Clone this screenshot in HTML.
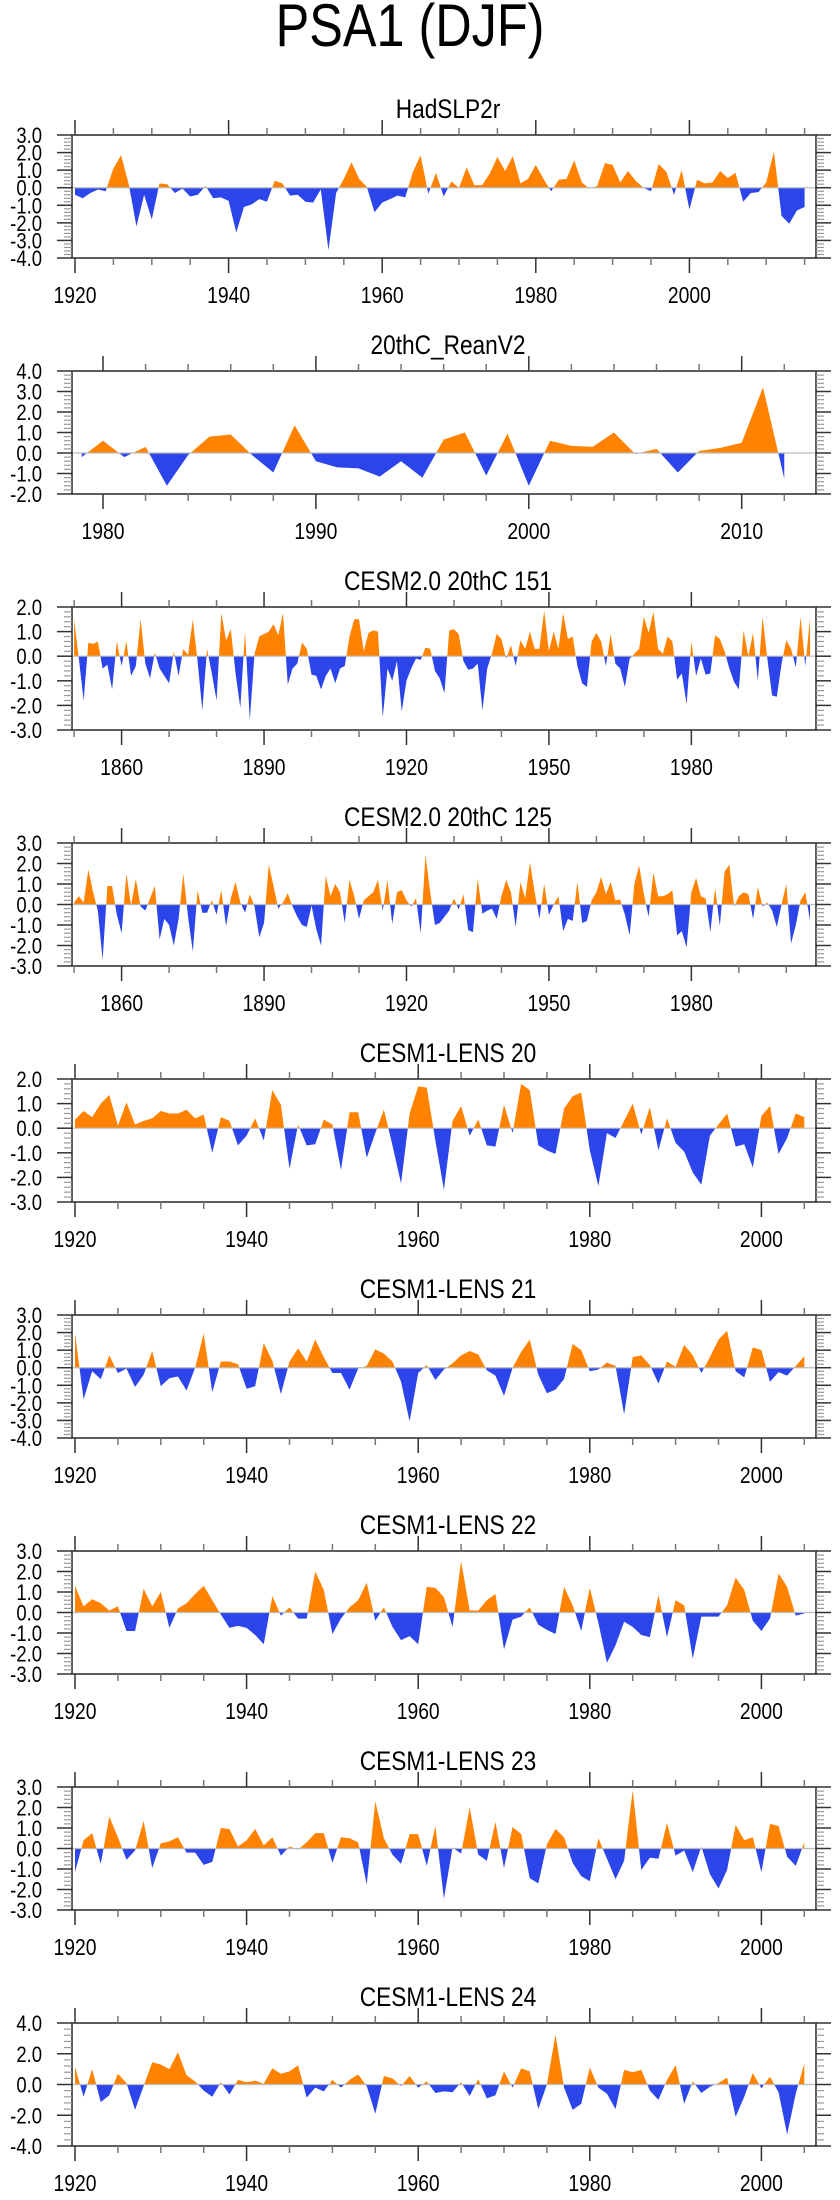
<!DOCTYPE html>
<html><head><meta charset="utf-8"><style>
html,body{margin:0;padding:0;background:#fff;}
svg{display:block;font-family:"Liberation Sans",sans-serif;}
</style></head><body>
<svg id="chart" width="840" height="2200" viewBox="0 0 840 2200" xmlns="http://www.w3.org/2000/svg">
<text transform="translate(410,46) scale(0.84,1)" font-size="60" text-anchor="middle">PSA1 (DJF)</text>
</svg>
<script>
const titles = ["HadSLP2r","20thC_ReanV2","CESM2.0 20thC 151","CESM2.0 20thC 125","CESM1-LENS 20","CESM1-LENS 21","CESM1-LENS 22","CESM1-LENS 23","CESM1-LENS 24"];
const startYears = [1920,1979,1850,1850,1920,1920,1920,1920,1920];
const yMaxs = [3,4,2,3,2,3,3,3,4];
const yMins = [-4,-2,-3,-3,-3,-4,-3,-3,-4];
const yMajorSteps = [1,1,1,1,1,1,1,1,2];
const xLabelSteps = [20,10,30,30,20,20,20,20,20];
const xMinorSteps = [5,2,10,10,5,5,5,5,5];

const hadslp2r = [-0.4,-0.6,-0.3,-0.1,-0.2,1.1,1.85,0.2,-2.2,-0.4,-1.8,0.25,0.2,-0.3,-0.05,-0.5,-0.4,0.1,-0.6,-0.55,-0.75,-2.55,-1.1,-0.95,-0.65,-0.8,0.4,0.25,-0.45,-0.4,-0.8,-0.85,-0.1,-3.55,-0.3,0.5,1.45,0.5,0.05,-1.4,-0.85,-0.65,-0.45,-0.55,0.9,1.85,-0.35,0.85,-0.5,0.35,0.0,1.15,0.15,0.15,0.8,1.75,0.95,1.8,0.25,0.5,1.3,0.5,-0.2,0.45,0.5,1.55,0.3,-0.05,0.1,1.4,1.3,0.3,0.95,0.4,0.0,-0.2,1.35,0.9,-0.4,1.0,-1.25,0.45,0.25,0.3,0.95,0.55,0.85,-0.8,-0.3,-0.25,0.3,2.05,-1.6,-2.05,-1.3,-1.1];
const reanv2 = [-0.2,0.6,-0.2,0.3,-1.6,-0.1,0.8,0.9,-0.1,-0.95,1.35,-0.4,-0.7,-0.75,-1.15,-0.4,-1.2,0.65,1.0,-1.1,0.95,-1.6,0.6,0.35,0.3,1.0,-0.05,0.2,-0.95,0.1,0.25,0.5,3.2,-1.25];
const cesm2_151 = [1.5,-0.1,-1.8,0.55,0.5,0.6,-0.5,-0.35,-1.35,0.6,-0.4,0.6,-0.8,-0.4,1.5,-0.3,-0.9,0.15,-0.5,-0.8,-1.1,0.2,-0.8,0.3,0.05,1.5,-0.2,-2.2,0.3,-0.7,-1.8,1.75,0.65,1.1,-0.7,-2.1,1.0,-2.6,0.1,0.8,0.9,1.0,1.3,0.85,1.75,-1.15,-0.5,-0.3,0.55,0.3,-0.75,-0.8,-1.35,-0.8,-0.5,-1.1,-0.5,-0.4,0.8,1.5,1.5,0.2,0.95,1.05,1.0,-2.5,-0.5,-1.0,-0.2,-2.25,-1.0,-0.5,-0.1,-0.15,0.35,0.3,-0.6,-0.9,-1.5,1.05,1.1,0.9,-0.2,-0.55,-0.5,-0.3,-2.2,-0.5,0.1,0.9,0.7,-0.1,0.45,-0.4,0.65,0.3,1.0,0.3,0.3,1.85,0.2,1.0,0.3,1.75,0.7,0.8,-0.4,-1.1,-1.25,0.6,0.95,0.6,-0.4,0.9,-0.3,-0.5,-1.25,-0.1,0.1,0.3,1.6,0.95,1.8,0.3,0.1,0.8,0.6,-0.95,-0.7,-1.95,0.6,-0.8,-0.1,-0.75,-0.7,0.85,0.7,0.2,-0.5,-1.05,-1.35,1.05,0.0,0.95,-1.0,1.6,-0.1,-1.6,-1.65,-0.3,0.65,0.3,-0.45,1.6,-0.4,1.55];
const cesm2_125 = [0.1,0.4,0.1,1.7,0.6,-0.3,-2.7,0.9,0.9,-0.5,-1.4,1.5,-0.05,1.25,-0.1,-0.3,0.3,0.9,-1.7,-0.7,-1.0,-2.0,-0.7,1.5,-0.6,-2.3,0.7,-0.4,-0.4,0.2,-0.5,0.7,-1.05,0.3,1.1,0.1,-0.4,0.5,-0.1,-1.6,-0.9,1.95,0.9,-0.2,0.1,0.55,-0.1,-0.6,-1.0,-1.1,-0.05,-1.2,-2.0,1.4,0.4,1.0,0.6,-0.9,1.2,0.4,-0.7,0.2,0.4,0.6,1.2,-0.3,1.2,-0.95,0.6,0.7,0.2,-0.1,0.3,-1.4,2.4,0.6,-1.0,-0.9,-0.6,-0.3,0.3,-0.25,0.5,-1.25,-1.35,1.25,-0.45,-0.3,-0.2,-0.7,0.4,1.2,0.6,-1.1,1.1,0.3,2.05,0.6,-0.7,1.0,-0.5,0.0,0.4,-1.3,-0.7,-0.8,1.1,-0.9,-0.8,0.2,0.6,1.35,0.5,1.1,0.2,0.25,-0.5,-1.5,1.0,1.9,0.5,-0.6,1.55,0.4,0.4,0.5,0.7,-1.5,-1.3,-2.1,0.6,1.3,0.4,0.3,-1.35,0.8,-1.05,1.6,1.95,-0.1,0.4,0.6,0.5,-0.7,0.85,-0.1,0.1,-0.3,-1.1,0.0,1.0,-1.9,-1.0,0.2,0.6,-0.8];
const lens20 = [0.35,0.7,0.45,1.0,1.35,0.1,1.05,0.15,0.3,0.4,0.7,0.6,0.6,0.75,0.4,0.55,-1.0,0.45,0.3,-0.7,-0.3,0.4,-0.5,1.55,0.95,-1.65,0.15,-0.7,-0.65,0.35,0.15,-1.7,0.65,0.65,-1.2,-0.2,0.75,-0.7,-2.25,0.6,1.7,1.65,-0.5,-2.5,0.3,0.9,-0.3,0.35,-0.7,-0.75,0.95,-0.2,1.8,1.55,-0.7,-0.9,-1.05,0.8,1.3,1.45,-0.9,-2.35,-0.2,-0.4,0.3,1.0,-0.25,0.85,-0.9,0.4,-0.6,-0.95,-1.8,-2.3,-0.3,0.15,0.6,-0.75,-0.65,-1.6,0.5,0.9,-1.05,-0.4,0.6,0.45];
const lens21 = [1.95,-1.8,-0.2,-0.65,0.7,-0.3,-0.05,-1.1,-0.4,0.95,-1.05,-0.6,-0.5,-1.3,0.0,1.95,-1.4,0.35,0.35,0.2,-1.2,-1.05,1.4,0.4,-1.5,0.35,1.1,0.35,1.6,0.6,-0.3,-0.3,-1.25,-0.05,0.1,1.05,0.8,0.35,-0.8,-3.05,-0.3,0.15,-0.7,-0.1,0.25,0.7,0.95,0.75,-0.15,-0.45,-1.6,0.0,0.9,1.6,-0.4,-1.45,-1.25,-0.65,1.35,1.0,-0.2,-0.1,0.3,0.1,-2.65,0.6,0.7,0.15,-0.9,0.35,0.05,1.3,0.7,-0.3,0.6,1.6,2.1,-0.2,-0.55,1.15,1.0,-0.8,-0.25,-0.45,0.1,0.65];
const lens22 = [1.3,0.3,0.65,0.45,0.1,0.3,-0.9,-0.9,1.15,0.3,1.0,-0.75,0.2,0.45,0.9,1.3,0.6,-0.1,-0.75,-0.65,-0.75,-1.1,-1.55,0.8,-0.15,0.25,-0.3,-0.3,2.0,1.1,-1.05,-0.3,0.25,0.6,1.45,-0.4,0.25,-0.7,-1.35,-1.15,-1.55,1.25,1.2,0.75,-0.7,2.5,0.1,0.1,0.6,0.9,-1.8,-0.35,-0.2,0.25,-0.6,-0.85,-1.05,1.25,0.35,-0.9,1.2,-0.5,-2.45,-1.6,-0.45,-0.7,-1.1,-1.2,0.85,-1.2,0.6,0.35,-2.25,-0.2,-0.2,-0.2,0.35,1.7,1.1,-0.4,-0.9,-0.3,1.9,1.25,-0.15,-0.05];
const lens23 = [-1.15,0.4,0.75,-0.75,1.55,0.55,-0.55,-0.1,1.35,-0.95,0.25,0.35,0.55,-0.2,-0.2,-0.8,-0.65,1.0,0.95,0.1,0.4,0.95,0.15,0.55,-0.35,0.1,-0.05,0.3,0.75,0.75,-0.7,0.55,0.5,0.3,-1.75,2.3,0.5,-0.3,-0.75,0.7,0.7,-0.85,1.1,-2.45,0.05,-0.25,2.0,-0.3,-0.6,1.3,-0.95,1.05,0.7,-1.45,-1.7,0.2,0.95,0.55,-0.7,-1.35,-1.6,0.5,-0.5,-1.5,-0.6,2.85,-1.05,-0.45,-0.5,1.25,-0.35,-0.1,-1.15,0.1,-1.25,-1.95,-1.05,1.15,0.4,0.55,-1.15,1.2,1.1,-0.4,-0.85,0.3];
const lens24 = [1.15,-0.8,1.0,-1.15,-0.7,0.7,0.1,-1.65,-0.1,1.45,1.3,1.0,2.1,0.6,0.2,-0.4,-0.8,0.15,-0.65,0.3,0.15,0.25,0.05,1.05,0.7,0.85,1.25,-0.85,-0.2,-0.45,0.3,-0.2,0.3,0.65,-0.1,-1.9,0.55,0.4,-0.1,0.55,-0.2,0.2,-0.55,-0.45,-0.5,0.15,-0.75,0.35,-0.9,-0.7,0.85,-0.2,1.05,0.85,-1.6,0.0,3.25,-0.2,-1.65,-1.25,1.1,-0.2,-0.6,-1.6,0.95,0.8,0.95,-0.4,-1.0,0.3,1.25,-1.25,0.2,-0.55,-0.15,0.1,0.45,-2.1,-0.8,0.75,-0.25,0.5,-0.5,-3.25,-0.6,1.35];

const series = [hadslp2r,reanv2,cesm2_151,cesm2_125,lens20,lens21,lens22,lens23,lens24];

// axis geometry (pixels, not data)
const frameTops = [135,371,607,843,1079,1315,1551,1787,2023];
const frameH = 123, X0 = 72, X1 = 816;
const axRef = [[1920,75,7.68],[1980,103,21.29],[1860,121.6,4.748],[1860,121.6,4.748],[1920,75,8.58],[1920,75,8.58],[1920,75,8.58],[1920,75,8.58],[1920,75,8.58]];

const NS = "http://www.w3.org/2000/svg";
const svg = document.getElementById('chart');
function mk(tag, attrs, parent){const e=document.createElementNS(NS,tag);for(const k in attrs)e.setAttribute(k,attrs[k]);(parent||svg).appendChild(e);return e;}
const fmt = v => (Math.abs(v)<1e-9?0:v).toFixed(1);
const SQ = 0.84;

for (let p=0;p<series.length;p++){
  const top=frameTops[p], bot=top+frameH;
  const ymax=yMaxs[p], ymin=yMins[p];
  const [ry,rx,ppy]=axRef[p];
  const xs = yr => rx+(yr-ry)*ppy;
  const ys = v => top+(ymax-v)/(ymax-ymin)*frameH;
  const g = mk('g',{});
  
  

  const t = mk('text',{transform:'translate('+((X0+X1)/2+4)+','+(top-17)+') scale('+SQ+',1)','font-size':27,'text-anchor':'middle'},g);
  t.textContent=titles[p];
  
  

  const vals=series[p], y0=ys(0);
  let pts=[[xs(startYears[p]),y0]];
  vals.forEach((v,i)=>pts.push([xs(startYears[p]+i),ys(v)]));
  pts.push([xs(startYears[p]+vals.length-1),y0]);
  const ptsStr=pts.map(a=>a[0].toFixed(2)+','+a[1].toFixed(2)).join(' ');
  const cid='c'+p;
  const defs=mk('defs',{},g);
  const cpA=mk('clipPath',{id:cid+'a'},defs); mk('rect',{x:0,y:top,width:840,height:y0-top},cpA);
  const cpB=mk('clipPath',{id:cid+'b'},defs); mk('rect',{x:0,y:y0,width:840,height:bot-y0},cpB);
  const pa=mk('polygon',{points:ptsStr,fill:'#ff8200','clip-path':'url(#'+cid+'a)'},g);
  
  
  const pb=mk('polygon',{points:ptsStr,fill:'#2b45eb','clip-path':'url(#'+cid+'b)'},g);
  
  
  const zl=mk('line',{x1:X0,x2:X1,y1:y0,y2:y0,stroke:'#bbb','stroke-width':1.2},g);
  
  

  const fr=mk('rect',{x:X0,y:top,width:X1-X0,height:frameH,fill:'none',stroke:'#333','stroke-width':1.6},g);
  
  

  const yrStart=Math.ceil((ry-(rx-X0)/ppy)), yrEnd=Math.floor(ry+(X1-rx)/ppy);
  for(let yr=yrStart;yr<=yrEnd;yr++){
    if(yr%xMinorSteps[p]!==0) continue;
    const x=xs(yr), major=yr%xLabelSteps[p]===0;
    const L=major?15:7, c=major?'#333':'#777';
    mk('line',{x1:x,x2:x,y1:top,y2:top-L,stroke:c,'stroke-width':1.5},g);
    mk('line',{x1:x,x2:x,y1:bot,y2:bot+L,stroke:c,'stroke-width':1.5},g);
    if(major){
      const lb=mk('text',{transform:'translate('+x+','+(bot+45)+') scale('+SQ+',1)','font-size':23,'text-anchor':'middle'},g);
      lb.textContent=yr;
      
      
    }
  }
  const maj=yMajorSteps[p], mn=maj/5;
  const n=Math.round((ymax-ymin)/mn);
  for(let i=0;i<=n;i++){
    const v=ymax-i*mn, y=ys(v), major=i%5===0;
    const L=major?15:8, c=major?'#333':'#999';
    mk('line',{x1:X0,x2:X0-L,y1:y,y2:y,stroke:c,'stroke-width':major?1.5:1.2},g);
    mk('line',{x1:X1,x2:X1+L,y1:y,y2:y,stroke:c,'stroke-width':major?1.5:1.2},g);
    if(major){
      const lb=mk('text',{transform:'translate(42,'+(y+8)+') scale('+SQ+',1)','font-size':22,'text-anchor':'end'},g);
      lb.textContent=fmt(v);
      
      
    }
  }
}
</script>
</body></html>
